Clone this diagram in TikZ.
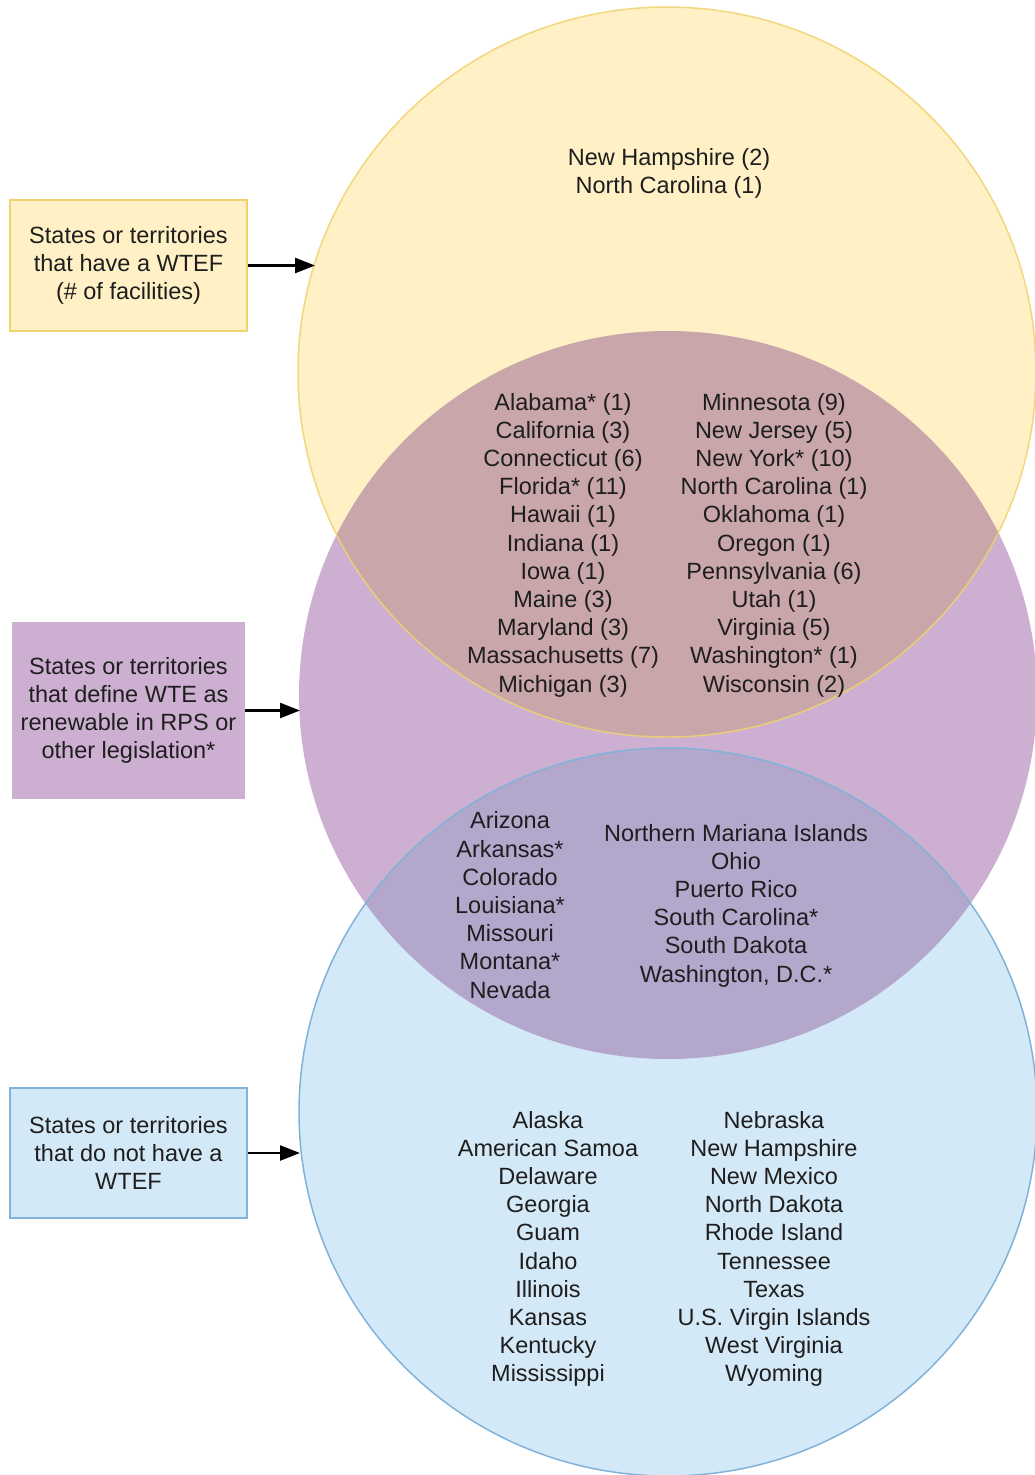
\documentclass[tikz,border=0pt]{standalone}
\usepackage{fontspec}
\setmainfont{Liberation Sans}
\usetikzlibrary{arrows.meta}
\definecolor{yfill}{HTML}{FFF0C5}
\definecolor{yline}{HTML}{F0D26C}
\definecolor{pfill}{HTML}{CDB0D1}
\definecolor{ypfill}{HTML}{C8A6A9}
\definecolor{bfill}{HTML}{D4E9F7}
\definecolor{bline}{HTML}{80B2DA}
\definecolor{pbfill}{HTML}{B3A7CC}
\definecolor{txt}{HTML}{1E1E1E}
\tikzset{
  lbl/.style={align=center, inner sep=0pt, text=txt, font=\fontsize{23.5}{28.2}\selectfont},
  boxy/.style={lbl, draw=yline, line width=1.5pt, fill=yfill, minimum width=237pt, minimum height=131pt},
  boxp/.style={lbl, fill=pfill, minimum width=233pt, minimum height=177pt},
  boxb/.style={lbl, draw=bline, line width=1.5pt, fill=bfill, minimum width=237pt, minimum height=130pt},
  arr/.style={line width=2.5pt, -{Triangle[length=20pt,width=15pt]}}
}
\begin{document}
\begin{tikzpicture}[x=1pt,y=-1pt]
\useasboundingbox (0,0) rectangle (1034,1475);
% circles
\def\yc{(667,372) ellipse[x radius=369pt, y radius=365pt]}
\def\pc{(668,695) ellipse[x radius=369pt, y radius=364pt]}
\def\bc{(668,1112) ellipse[x radius=369pt, y radius=364pt]}
\fill[pfill] \pc;
\fill[yfill] \yc;
\fill[bfill] \bc;
\begin{scope}
  \clip \yc;
  \fill[ypfill] \pc;
\end{scope}
\begin{scope}
  \clip \bc;
  \fill[pbfill] \pc;
\end{scope}
\draw[yline, line width=1.5pt, opacity=0.85] \yc;
\draw[bline, line width=1.5pt] \bc;
% boxes
\node[boxy] (ybox) at (128.5,265.5) {States or territories\\that have a WTEF\\(\# of facilities)};
\node[boxp] (pbox) at (128.5,710.5) {States or territories\\that define WTE as\\renewable in RPS or\\other legislation*};
\node[boxb] (bbox) at (128.5,1153) {States or territories\\that do not have a\\WTEF};
\coordinate (yin) at (315,265.5);
\coordinate (pin) at (300,710.5);
\coordinate (bin) at (300,1153);
\draw[arr] (ybox.east) -- (yin);
\draw[arr] (pbox.east) -- (pin);
\draw[arr] (bbox.east) -- (bin);
% texts
\node[lbl] (ytop) at (669,173.5) {New Hampshire (2)\\North Carolina (1)};
\node[lbl] (ypl) at (563,545) {Alabama* (1)\\California (3)\\Connecticut (6)\\Florida* (11)\\Hawaii (1)\\Indiana (1)\\Iowa (1)\\Maine (3)\\Maryland (3)\\Massachusetts (7)\\Michigan (3)};
\node[lbl] (ypr) at (774,545) {Minnesota (9)\\New Jersey (5)\\New York* (10)\\North Carolina (1)\\Oklahoma (1)\\Oregon (1)\\Pennsylvania (6)\\Utah (1)\\Virginia (5)\\Washington* (1)\\Wisconsin (2)};
\node[lbl] (pbl) at (510,905) {Arizona\\Arkansas*\\Colorado\\Louisiana*\\Missouri\\Montana*\\Nevada};
\node[lbl] (pbr) at (736,905.5) {Northern Mariana Islands\\Ohio\\Puerto Rico\\South Carolina*\\South Dakota\\Washington, D.C.*};
\node[lbl] (bl) at (548,1249) {Alaska\\American Samoa\\Delaware\\Georgia\\Guam\\Idaho\\Illinois\\Kansas\\Kentucky\\Mississippi};
\node[lbl] (br) at (774,1249) {Nebraska\\New Hampshire\\New Mexico\\North Dakota\\Rhode Island\\Tennessee\\Texas\\U.S. Virgin Islands\\West Virginia\\Wyoming};
\end{tikzpicture}
\end{document}
